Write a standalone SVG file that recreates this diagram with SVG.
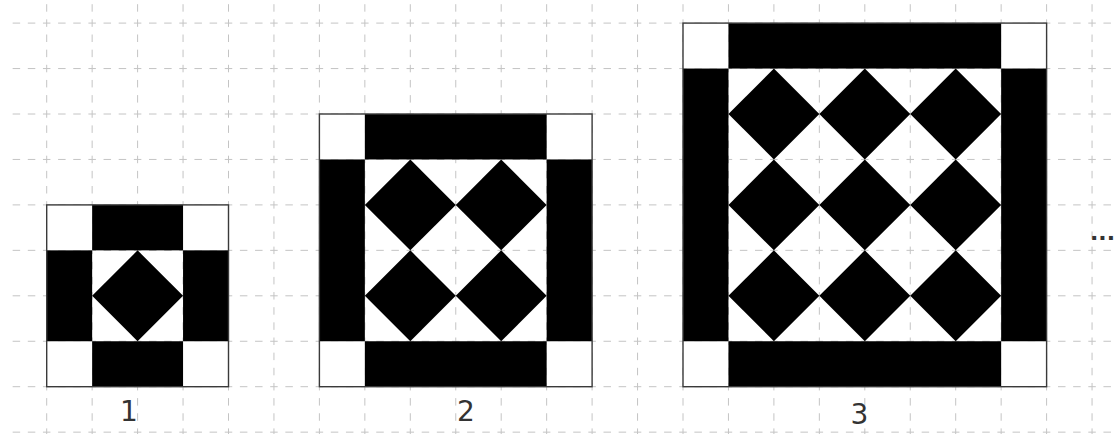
<svg xmlns="http://www.w3.org/2000/svg" xmlns:xlink="http://www.w3.org/1999/xlink" width="1117" height="434" viewBox="0 0 1117 434">
<style>
.grid{fill:none;stroke:#c4c4c4;stroke-width:1;stroke-dasharray:7.5 7.65}
.blk{fill:#000}
.wht{fill:#fff}
.frame{fill:none;stroke:#3a3a3a;stroke-width:1.4}
.lbl{font-family:"DejaVu Sans",Verdana,sans-serif;font-size:28px;fill:#333;text-anchor:middle}
</style>
<defs>
<path id="d" d="M0,-45.45L45.45,0L0,45.45L-45.45,0Z" fill="#000"/>
</defs>
<rect width="1117" height="434" fill="#fff"/>
<g id="grid">
<path class="grid" d="M46.7,-10.95V434M92.15,-10.95V434M137.6,-10.95V434M183.05,-10.95V434M228.5,-10.95V434M273.95,-10.95V434M319.4,-10.95V434M364.85,-10.95V434M410.3,-10.95V434M455.75,-10.95V434M501.2,-10.95V434M546.65,-10.95V434M592.1,-10.95V434M637.55,-10.95V434M683,-10.95V434M728.45,-10.95V434M773.9,-10.95V434M819.35,-10.95V434M864.8,-10.95V434M910.25,-10.95V434M955.7,-10.95V434M1001.15,-10.95V434M1046.6,-10.95V434M1092.05,-10.95V434"/>
<path class="grid" d="M12.65,23.1H1117M12.65,68.55H1117M12.65,114H1117M12.65,159.45H1117M12.65,204.9H1117M12.65,250.35H1117M12.65,295.8H1117M12.65,341.25H1117M12.65,386.7H1117M12.65,432.15H1117"/>
</g>
<g id="figure1">
<rect class="wht" x="46.7" y="204.9" width="45.45" height="45.45"/>
<rect class="wht" x="183.05" y="204.9" width="45.45" height="45.45"/>
<rect class="wht" x="46.7" y="341.25" width="45.45" height="45.45"/>
<rect class="wht" x="183.05" y="341.25" width="45.45" height="45.45"/>
<rect class="blk" x="92.15" y="204.9" width="90.9" height="45.45"/>
<rect class="blk" x="92.15" y="341.25" width="90.9" height="45.45"/>
<rect class="blk" x="46.7" y="250.35" width="45.45" height="90.9"/>
<rect class="blk" x="183.05" y="250.35" width="45.45" height="90.9"/>
<use xlink:href="#d" x="137.6" y="295.8"/>
<rect class="frame" x="46.7" y="204.9" width="181.8" height="181.8"/>
</g>
<g id="figure2">
<rect class="wht" x="319.4" y="114" width="45.45" height="45.45"/>
<rect class="wht" x="546.65" y="114" width="45.45" height="45.45"/>
<rect class="wht" x="319.4" y="341.25" width="45.45" height="45.45"/>
<rect class="wht" x="546.65" y="341.25" width="45.45" height="45.45"/>
<rect class="blk" x="364.85" y="114" width="181.8" height="45.45"/>
<rect class="blk" x="364.85" y="341.25" width="181.8" height="45.45"/>
<rect class="blk" x="319.4" y="159.45" width="45.45" height="181.8"/>
<rect class="blk" x="546.65" y="159.45" width="45.45" height="181.8"/>
<use xlink:href="#d" x="410.3" y="204.9"/>
<use xlink:href="#d" x="501.2" y="204.9"/>
<use xlink:href="#d" x="410.3" y="295.8"/>
<use xlink:href="#d" x="501.2" y="295.8"/>
<rect class="frame" x="319.4" y="114" width="272.7" height="272.7"/>
</g>
<g id="figure3">
<rect class="wht" x="683" y="23.1" width="45.45" height="45.45"/>
<rect class="wht" x="1001.15" y="23.1" width="45.45" height="45.45"/>
<rect class="wht" x="683" y="341.25" width="45.45" height="45.45"/>
<rect class="wht" x="1001.15" y="341.25" width="45.45" height="45.45"/>
<rect class="blk" x="728.45" y="23.1" width="272.7" height="45.45"/>
<rect class="blk" x="728.45" y="341.25" width="272.7" height="45.45"/>
<rect class="blk" x="683" y="68.55" width="45.45" height="272.7"/>
<rect class="blk" x="1001.15" y="68.55" width="45.45" height="272.7"/>
<use xlink:href="#d" x="773.9" y="114"/>
<use xlink:href="#d" x="864.8" y="114"/>
<use xlink:href="#d" x="955.7" y="114"/>
<use xlink:href="#d" x="773.9" y="204.9"/>
<use xlink:href="#d" x="864.8" y="204.9"/>
<use xlink:href="#d" x="955.7" y="204.9"/>
<use xlink:href="#d" x="773.9" y="295.8"/>
<use xlink:href="#d" x="864.8" y="295.8"/>
<use xlink:href="#d" x="955.7" y="295.8"/>
<rect class="frame" x="683" y="23.1" width="363.6" height="363.6"/>
</g>
<g id="labels">
<text class="lbl" x="129" y="421">1</text>
<text class="lbl" x="466" y="421">2</text>
<text class="lbl" x="859.5" y="424">3</text>
<text class="lbl" x="1115" y="240" style="text-anchor:end;font-size:22px;font-weight:bold">...</text>
</g>
</svg>
